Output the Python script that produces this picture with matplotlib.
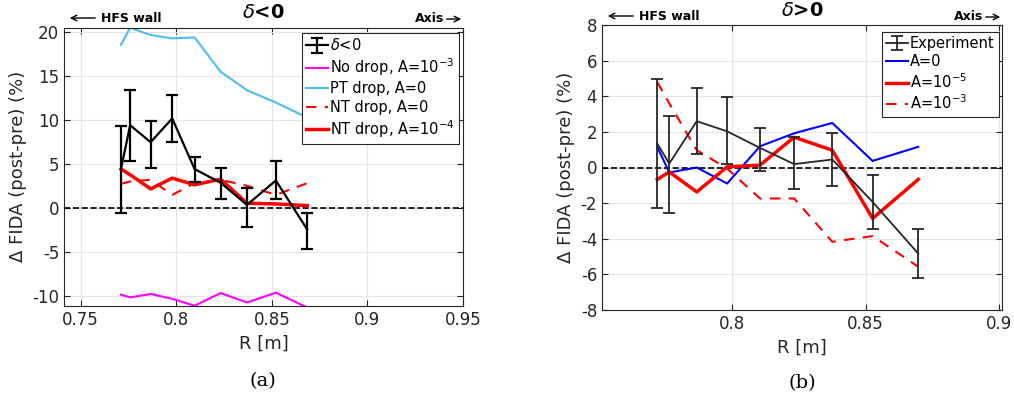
import matplotlib
matplotlib.use("Agg")
import matplotlib.pyplot as plt
import numpy as np

plt.rcParams['font.family'] = 'DejaVu Sans'
plt.rcParams['axes.unicode_minus'] = False

# ---- panel (a): delta < 0 ----
r_a = [0.7711, 0.7759, 0.7866, 0.7979, 0.8096, 0.8232, 0.8370, 0.8521, 0.8685]
exp_a = [4.45, 9.43, 7.5, 10.2, 4.45, 2.9, 0.38, 3.15, -2.4]
exp_a_hi = [9.3, 13.4, 9.9, 12.85, 5.8, 4.55, 2.3, 5.4, -0.54]
exp_a_lo = [-0.57, 5.4, 4.6, 7.5, 3.0, 1.1, -2.1, 1.0, -4.6]
nodrop_a = [-9.82, -10.12, -9.74, -10.28, -11.07, -9.63, -10.7, -9.59, -11.27]
pt_a = [18.56, 20.5, 19.67, 19.29, 19.4, 15.5, 13.4, 12.0, 10.3]
nt0_a = [2.77, 3.04, 3.23, 1.52, 2.85, 3.23, 2.55, 1.52, 2.85]
nt4_a = [4.45, 3.8, 2.2, 3.42, 2.66, 3.3, 0.57, 0.49, 0.3]

# ---- panel (b): delta > 0 ----
r_b = [0.7719, 0.7764, 0.7867, 0.7981, 0.8104, 0.8232, 0.8375, 0.8526, 0.8697]
exp_b = [1.35, 0.22, 2.6, 2.03, 1.1, 0.19, 0.45, -1.93, -4.83]
exp_b_hi = [4.95, 2.88, 4.45, 3.94, 2.2, 1.7, 1.95, -0.43, -3.48]
exp_b_lo = [-2.26, -2.54, 0.75, 0.19, -0.19, -1.18, -1.05, -3.48, -6.23]
a0_b = [1.16, -0.28, 0.0, -0.9, 1.19, 1.92, 2.5, 0.37, 1.16]
a5_b = [-0.67, -0.25, -1.37, 0.04, 0.13, 1.7, 0.97, -2.86, -0.67]
a3_b = [4.8, 3.6, 0.97, -0.06, -1.74, -1.74, -4.17, -3.85, -5.57]

W, H = 1014, 403


def fx(x):
    return x / W


def fy(y):
    return 1 - y / H


def style_axes(ax):
    ax.grid(True, color='#e6e6e6', lw=0.8)
    ax.set_axisbelow(True)
    ax.tick_params(direction='in', top=True, right=True, labelsize=12,
                   colors='#262626', length=4)
    for s in ax.spines.values():
        s.set_color('#262626')
        s.set_linewidth(0.8)
    ax.set_xlabel('R [m]', fontsize=13, color='#262626')
    ax.set_ylabel('Δ FIDA (post-pre) (%)', fontsize=13, color='#262626')


def header(x0, x1, title, ytxt):
    fig.text(fx((x0 + x1) / 2), fy(ytxt), title, ha='center', va='center',
             fontsize=14, fontweight='bold')
    fig.text(fx(x0 + 37), fy(ytxt + 5), 'HFS wall', ha='left', va='center',
             fontsize=9, fontweight='bold')
    fig.text(fx(x1 - 48), fy(ytxt + 6), 'Axis', ha='left', va='center',
             fontsize=9, fontweight='bold')
    fig.add_artist(matplotlib.patches.FancyArrowPatch(
        (fx(x0 + 34), fy(ytxt + 5)), (fx(x0 + 3), fy(ytxt + 5)),
        transform=fig.transFigure, arrowstyle='->', mutation_scale=10, lw=1))
    fig.add_artist(matplotlib.patches.FancyArrowPatch(
        (fx(x1 - 19), fy(ytxt + 6)), (fx(x1 + 1), fy(ytxt + 6)),
        transform=fig.transFigure, arrowstyle='->', mutation_scale=10, lw=1))


def make_legend(ax, handles, anchor, fs, spacing):
    leg = ax.legend(handles=handles, loc='upper right', bbox_to_anchor=anchor,
                    borderaxespad=0, fontsize=fs, fancybox=False, framealpha=1,
                    edgecolor='#262626', handlelength=1.5, handletextpad=0.1,
                    labelspacing=spacing, borderpad=0.3)
    leg.get_frame().set_linewidth(0.8)
    return leg


fig = plt.figure(figsize=(W / 100, H / 100), dpi=100)

# ---------------- (a) ----------------
ax1 = fig.add_axes([fx(64), fy(306), (463 - 64) / W, (306 - 27.7) / H])
ax1.axhline(0, color='black', ls='--', lw=1.2)
ea = np.array(exp_a)
h_exp = ax1.errorbar(r_a, exp_a,
                     yerr=[ea - np.array(exp_a_lo), np.array(exp_a_hi) - ea],
                     color='black', lw=1.6, capsize=4, capthick=1.6,
                     label=r'$\delta$<0', zorder=3)
h_nd, = ax1.plot(r_a, nodrop_a, color='#ff00ff', lw=1.5, label='No drop, A=10$^{-3}$')
h_pt, = ax1.plot(r_a, pt_a, color='#4dbeee', lw=1.5, label='PT drop, A=0')
h_n0, = ax1.plot(r_a, nt0_a, color='red', lw=1.5, ls=(0, (5, 4)), label='NT drop, A=0')
h_n4, = ax1.plot(r_a, nt4_a, color='red', lw=2.5, label='NT drop, A=10$^{-4}$')
ax1.set_xlim(0.7413, 0.95)
ax1.set_ylim(-11.1, 20.5)
ax1.set_xticks([0.75, 0.8, 0.85, 0.9, 0.95])
ax1.set_xticklabels(['0.75', '0.8', '0.85', '0.9', '0.95'])
ax1.set_yticks([-10, -5, 0, 5, 10, 15, 20])
style_axes(ax1)
make_legend(ax1, [h_exp, h_nd, h_pt, h_n0, h_n4], (0.99, 0.981), 10.5, 0.22)
header(64, 463, r'$\delta$<0', 13)

# ---------------- (b) ----------------
ax2 = fig.add_axes([fx(602), fy(310), (1002 - 602) / W, (310 - 25) / H])
ax2.axhline(0, color='black', ls='--', lw=1.2)
eb = np.array(exp_b)
g_exp = ax2.errorbar(r_b, exp_b,
                     yerr=[eb - np.array(exp_b_lo), np.array(exp_b_hi) - eb],
                     color='#262626', lw=1.3, capsize=4, capthick=1.3,
                     label='Experiment', zorder=3)
g_a0, = ax2.plot(r_b, a0_b, color='blue', lw=1.5, label='A=0')
g_a5, = ax2.plot(r_b, a5_b, color='red', lw=2.5, label='A=10$^{-5}$')
g_a3, = ax2.plot(r_b, a3_b, color='red', lw=1.5, ls=(0, (5, 4)), label='A=10$^{-3}$')
ax2.set_xlim(0.7512, 0.9011)
ax2.set_ylim(-8, 8)
ax2.set_xticks([0.8, 0.85, 0.9])
ax2.set_xticklabels(['0.8', '0.85', '0.9'])
ax2.set_yticks(range(-8, 9, 2))
style_axes(ax2)
make_legend(ax2, [g_exp, g_a0, g_a5, g_a3], (0.992, 0.9765), 10.5, 0.2)
header(602, 1002, r'$\delta$>0', 11)

# captions
fig.text(fx(263), fy(381), '(a)', ha='center', va='center', fontsize=14,
         family='DejaVu Serif')
fig.text(fx(802), fy(383), '(b)', ha='center', va='center', fontsize=14,
         family='DejaVu Serif')

fig.savefig('out.png', dpi=100)
